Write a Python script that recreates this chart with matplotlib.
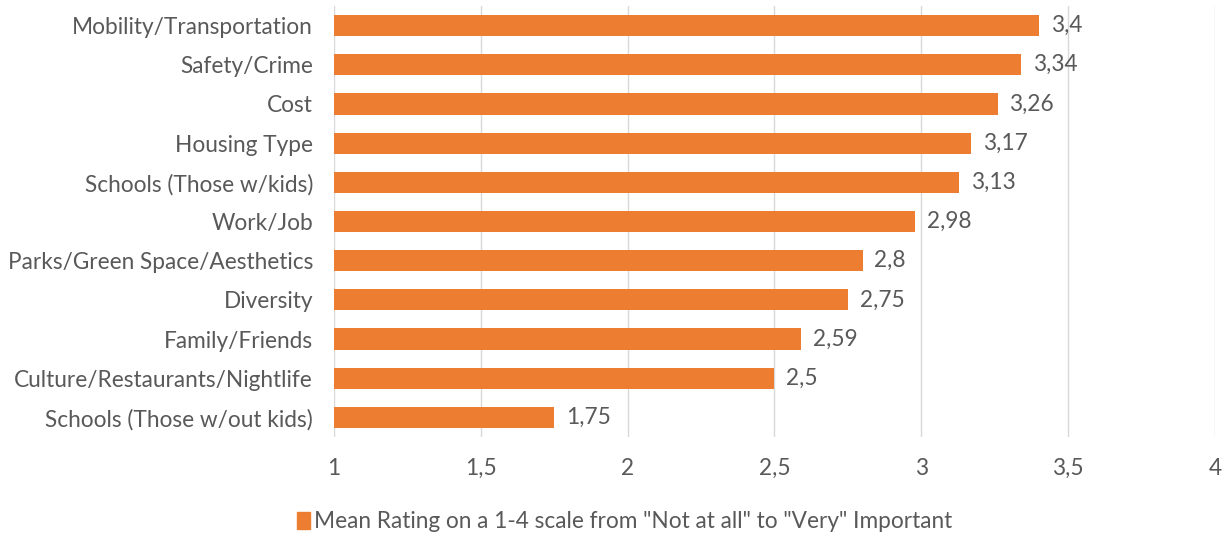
import matplotlib
matplotlib.use("Agg")
import matplotlib.pyplot as plt
from matplotlib.patches import Patch

# data
categories = ['Mobility/Transportation', 'Safety/Crime', 'Cost', 'Housing Type',
              'Schools (Those w/kids)', 'Work/Job', 'Parks/Green Space/Aesthetics',
              'Diversity', 'Family/Friends', 'Culture/Restaurants/Nightlife',
              'Schools (Those w/out kids)']
values = [3.4, 3.34, 3.26, 3.17, 3.13, 2.98, 2.8, 2.75, 2.59, 2.5, 1.75]
xticks = [1, 1.5, 2, 2.5, 3, 3.5, 4]
legend_label = 'Mean Rating on a 1-4 scale from "Not at all" to "Very" Important'

orange = '#ED7D31'
grey = '#595959'
plt.rcParams['font.family'] = ['Lato', 'DejaVu Sans']
fs = 16.3

fig = plt.figure(figsize=(12.3, 5.37), dpi=100)
ax = fig.add_axes([0.2715, 0.1862, 0.7163, 0.8026])

y = list(range(len(categories)))[::-1]
ax.barh(y, [v - 1 for v in values], left=1, height=0.54, color=orange, zorder=3)

for yi, v in zip(y, values):
    ax.text(v + 0.04, yi, ('%g' % v).replace('.', ','), va='center', ha='left',
            fontsize=fs, color=grey)

#axes
ax.set_xlim(1, 4)
ax.set_ylim(-0.5, len(categories) - 0.5)
ax.set_xticks(xticks)
ax.set_xticklabels([('%g' % t).replace('.', ',') for t in xticks], fontsize=fs, color=grey)
ax.set_yticks(y)
ax.set_yticklabels(categories, fontsize=fs, color=grey)
ax.tick_params(length=0, pad=15, axis='x')
ax.tick_params(length=0, pad=15, axis='y')
ax.xaxis.grid(True, color='#D9D9D9', linewidth=1, zorder=0)
for s in ax.spines.values():
    s.set_visible(False)

fig.legend(handles=[Patch(color=orange, label=legend_label)], loc='center',
           bbox_to_anchor=(0.508, 0.028), frameon=False, fontsize=fs,
           handlelength=0.55, handleheight=0.8, handletextpad=0.2,
           labelcolor=grey)

plt.savefig('out.png', dpi=100)
